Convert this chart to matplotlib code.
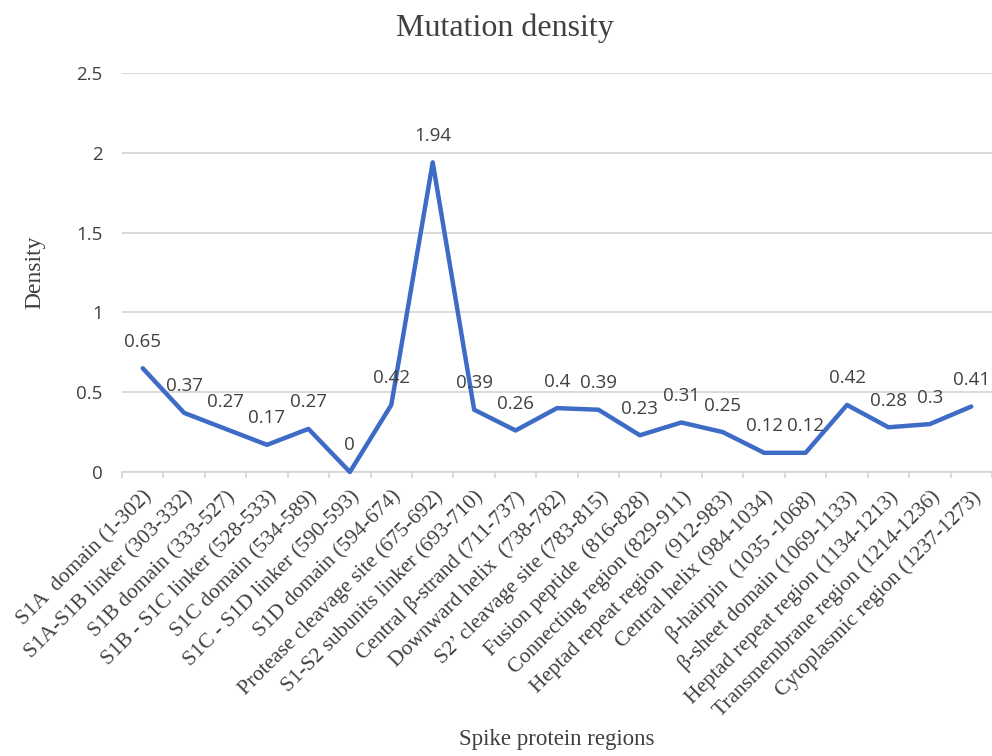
import matplotlib
matplotlib.use("Agg")
import matplotlib.pyplot as plt
import numpy as np

regions = [
    "S1A  domain (1-302)",
    "S1A-S1B linker (303-332)",
    "S1B domain (333-527)",
    "S1B - S1C linker (528-533)",
    "S1C domain (534-589)",
    "S1C - S1D linker (590-593)",
    "S1D domain (594-674)",
    "Protease cleavage site (675-692)",
    "S1-S2 subunits linker (693-710)",
    "Central \u03b2-strand (711-737)",
    "Downward helix  (738-782)",
    "S2\u2019 cleavage site (783-815)",
    "Fusion peptide  (816-828)",
    "Connecting region (829-911)",
    "Heptad repeat region  (912-983)",
    "Central helix (984-1034)",
    "\u03b2-hairpin  (1035 -1068)",
    "\u03b2-sheet domain (1069-1133)",
    "Heptad repeat region (1134-1213)",
    "Transmembrane region (1214-1236)",
    "Cytoplasmic region (1237-1273)",
]
density = [0.65, 0.37, 0.27, 0.17, 0.27, 0, 0.42, 1.94, 0.39, 0.26, 0.4,
           0.39, 0.23, 0.31, 0.25, 0.12, 0.12, 0.42, 0.28, 0.3, 0.41]
y_ticks = [0, 0.5, 1, 1.5, 2, 2.5]
y_tick_labels = ["0", "0.5", "1", "1.5", "2", "2.5"]

SERIF = "Liberation Serif"
SANS = "Open Sans"
LINE_BLUE = "#3D6BC6"
TEXT_GREY = "#404040"
GRID_GREY = "#D4D4D4"

fig = plt.figure(figsize=(9.92, 7.56), dpi=100)
ax = fig.add_axes([0.123, 0.3757, 0.877, 0.5278])

x = np.arange(len(regions))
ax.plot(x, density, color=LINE_BLUE, linewidth=3.2, solid_joinstyle="round",
        solid_capstyle="round", zorder=3, clip_on=False)

for xi, v in zip(x, density):
    ax.annotate(f"{v:g}", (xi, v), xytext=(0, 15.5), textcoords="offset points",
                ha="center", va="baseline", fontsize=13.5, family=SANS,
                color=TEXT_GREY, zorder=4)

ax.set_xlim(-0.5, len(regions) - 0.5)
ax.set_ylim(0, 2.5)
ax.set_yticks(y_ticks)
ax.set_yticklabels(y_tick_labels, family=SANS, fontsize=13.5, color=TEXT_GREY)
ax.tick_params(axis="y", length=0, pad=14)
ax.grid(axis="y", color=GRID_GREY, linewidth=1.2)
ax.set_axisbelow(True)

for side in ("top", "right", "left"):
    ax.spines[side].set_visible(False)
ax.spines["bottom"].set_color(GRID_GREY)
ax.spines["bottom"].set_linewidth(1.2)

# category labels at centres, tick marks at category boundaries
ax.set_xticks(x)
ax.set_xticklabels(regions, rotation=45, ha="right", va="top",
                   rotation_mode="anchor", family=SERIF, fontsize=15.5,
                   color=TEXT_GREY)
ax.tick_params(axis="x", which="major", length=0, pad=11)
ax.set_xticks(np.arange(len(regions) + 1) - 0.5, minor=True)
ax.tick_params(axis="x", which="minor", length=4, width=1.2, color=GRID_GREY)

ax.set_ylabel("Density", family=SERIF, fontsize=17, color=TEXT_GREY)
ax.yaxis.set_label_coords(-0.0885, 0.5)

fig.text(0.509, 0.963, "Mutation density", ha="center", va="center",
         family=SERIF, fontsize=23, color=TEXT_GREY)
fig.text(0.5615, 1 - 740 / 756, "Spike protein regions", ha="center",
         va="center", family=SERIF, fontsize=16.5, color=TEXT_GREY)

fig.savefig("out.png", dpi=100, facecolor="white")
